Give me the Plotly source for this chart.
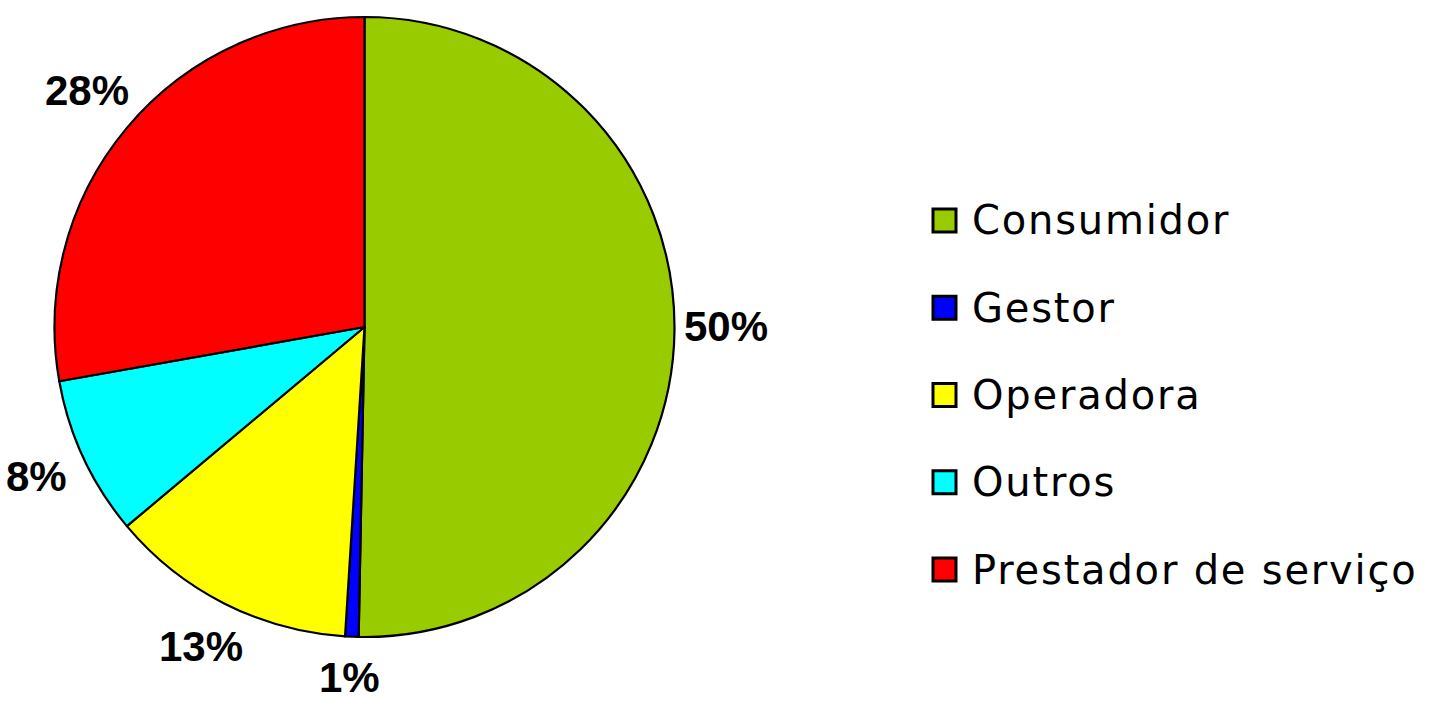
import math
import plotly.graph_objects as go

# ---- data ----
categories = ["Consumidor", "Gestor", "Operadora", "Outros", "Prestador de serviço"]
values = [50.3, 0.7, 12.9, 8.3, 27.8]
colors = ["#99CC00", "#0000FF", "#FFFF00", "#00FFFF", "#FF0000"]

W, H = 1439, 705
CX, CY, R = 364.5, 327.0, 310.0  # pie centre / radius in pixels

fig = go.Figure()
fig.add_trace(go.Pie(
    labels=categories,
    values=values,
    marker=dict(colors=colors, line=dict(color="black", width=2.2)),
    sort=False,
    direction="clockwise",
    rotation=0,
    textinfo="none",
    hoverinfo="label+percent",
    showlegend=False,
    domain=dict(x=[(CX - R) / W, (CX + R) / W], y=[(H - CY - R) / H, (H - CY + R) / H]),
))

# percentage labels placed along each slice's mid-angle, outside the pie
total = sum(values)
cum = 0.0
annotations = []
LABEL_DIST = 362.0
LABEL_LIFT = 4.0
LABEL_HALF_BOX = 28.0  # keep label box inside the page
for v in values:
    mid = (cum + v / 2) / total * 2 * math.pi
    cum += v
    px = CX + LABEL_DIST * math.sin(mid)
    py = CY - LABEL_DIST * math.cos(mid) - LABEL_LIFT
    py = min(py, H - LABEL_HALF_BOX)
    annotations.append(dict(
        x=px / W, y=1 - py / H, xref="paper", yref="paper",
        text=f"<b>{round(v / total * 100)}%</b>", showarrow=False,
        xanchor="center", yanchor="middle",
        font=dict(family="Liberation Sans, Arial, sans-serif", size=42, color="black"),
    ))

# legend (drawn as swatches + text)
shapes = []
LEG_Y0, LEG_DY = 220.5, 87.25
SW_X0, SW = 933.0, 23.0
TXT_X = 970.0
for i, (cat, col) in enumerate(zip(categories, colors)):
    yc = LEG_Y0 + i * LEG_DY
    shapes.append(dict(
        type="rect", xref="paper", yref="paper",
        x0=SW_X0 / W, x1=(SW_X0 + SW) / W,
        y0=1 - (yc + SW / 2) / H, y1=1 - (yc - SW / 2) / H,
        fillcolor=col, line=dict(color="black", width=3),
    ))
    annotations.append(dict(
        x=TXT_X / W, y=1 - yc / H, xref="paper", yref="paper",
        text=f'<span style="letter-spacing:1.8px">{cat}</span>', showarrow=False,
        xanchor="left", yanchor="middle",
        font=dict(family="DejaVu Sans, Verdana, sans-serif", size=40, color="black"),
    ))

fig.update_layout(
    width=W, height=H,
    margin=dict(l=0, r=0, t=0, b=0),
    paper_bgcolor="white", plot_bgcolor="white",
    annotations=annotations, shapes=shapes,
    showlegend=False,
)

fig.write_html(
    "out.html",
    config={"displayModeBar": False},
    post_script="document.body.style.margin='0px';document.body.style.overflow='hidden';",
)
